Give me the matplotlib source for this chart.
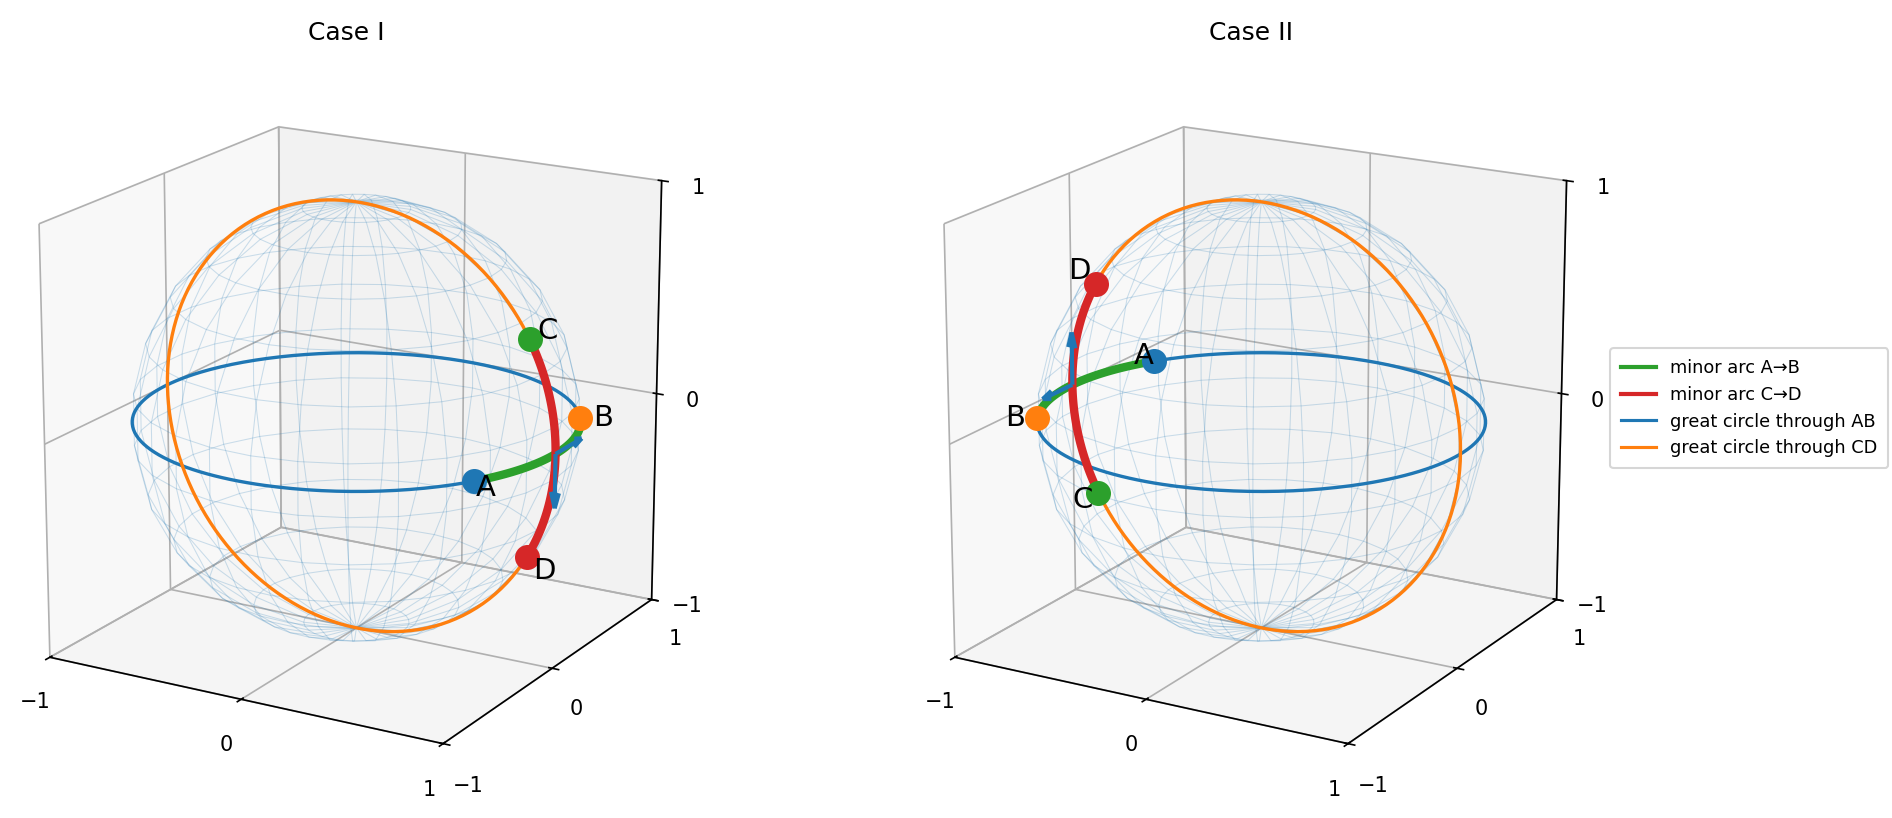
import numpy as np
import matplotlib.pyplot as plt
from matplotlib.lines import Line2D

# points on the unit sphere for the two cases (A, B, C, D)
s = np.sqrt(3) / 2
case_titles = ['Case I', 'Case II']
point_names = ['A', 'B', 'C', 'D']
point_colors = ['C0', 'C1', 'C2', 'C3']
case1_points = [[s, -0.5, 0.0], [s, 0.5, 0.0], [s, 0.0, 0.5], [s, 0.0, -0.5]]
case2_points = [[-s, 0.5, 0.0], [-s, -0.5, 0.0], [-s, 0.0, -0.5], [-s, 0.0, 0.5]]
axis_ticks = [-1, 0, 1]
legend_labels = ['minor arc A→B', 'minor arc C→D', 'great circle through AB',
                 'great circle through CD']


def unit(v):
    v = np.asarray(v, dtype=float)
    return v / np.linalg.norm(v)


def minor_arc(a, b, n=100):
    a, b = unit(a), unit(b)
    om = np.arccos(np.clip(np.dot(a, b), -1, 1))
    t = np.linspace(0, 1, n)
    pts = (np.sin((1 - t) * om)[:, None] * a + np.sin(t * om)[:, None] * b) / np.sin(om)
    return pts.T


def great_circle(a, b, n=300):
    a = unit(a)
    nrm = unit(np.cross(a, b))
    w = np.cross(nrm, a)
    t = np.linspace(0, 2 * np.pi, n)
    pts = np.cos(t)[:, None] * a + np.sin(t)[:, None] * w
    return pts.T


def on_arc(p, a, b):
    a, b = unit(a), unit(b)
    om = np.arccos(np.dot(a, b))
    return (np.arccos(np.clip(np.dot(p, a), -1, 1)) <= om + 1e-9 and
            np.arccos(np.clip(np.dot(p, b), -1, 1)) <= om + 1e-9)


def draw_case(ax, pts, title):
    A, B, C, D = [unit(p) for p in pts]
    ax.computed_zorder = False

    # sphere wireframe
    u = np.linspace(0, 2 * np.pi, 30)
    v = np.linspace(0, np.pi, 14)
    xs = np.outer(np.cos(u), np.sin(v))
    ys = np.outer(np.sin(u), np.sin(v))
    zs = np.outer(np.ones_like(u), np.cos(v))
    ax.plot_wireframe(xs, ys, zs, color='C0', alpha=0.22, linewidth=0.5, zorder=1)

    gab = great_circle(A, B)
    gcd = great_circle(C, D)
    ax.plot(*gab, color='C0', lw=1.6, zorder=2)
    ax.plot(*gcd, color='C1', lw=1.6, zorder=2)

    ax.plot(*minor_arc(A, B), color='C2', lw=4, zorder=3)
    ax.plot(*minor_arc(C, D), color='C3', lw=4, zorder=3)

    # intersection of the two great circles lying on both arcs
    n1 = unit(np.cross(A, B))
    n2 = unit(np.cross(C, D))
    p = unit(np.cross(n1, n2))
    if not (on_arc(p, A, B) and on_arc(p, C, D)):
        p = -p
    t1 = np.cross(n1, p)
    t2 = np.cross(n2, p)
    for t in (t1, t2):
        ax.quiver(p[0], p[1], p[2], t[0], t[1], t[2], length=0.25,
                  normalize=True, color='C0', linewidth=2,
                  arrow_length_ratio=0.3, zorder=4)

    for name, col, q in zip(point_names, point_colors, (A, B, C, D)):
        ax.plot([q[0]], [q[1]], [q[2]], 'o', color=col, markersize=11, zorder=5)
        lp = 1.1 * q
        ax.text(lp[0], lp[1], lp[2], name, fontsize=14, ha='center',
                va='center', zorder=6)

    ax.set_xlim(-1, 1)
    ax.set_ylim(-1, 1)
    ax.set_zlim(-1, 1)
    ax.set_xticks(axis_ticks)
    ax.set_yticks(axis_ticks)
    ax.set_zticks(axis_ticks)
    ax.set_box_aspect((1, 1, 1))
    ax.view_init(elev=18, azim=-60)
    ax.set_title(title)


fig = plt.figure(figsize=(1892 / 150, 818 / 150), dpi=150)
ax1 = fig.add_axes([-0.016, 0.0155, 0.398, 0.921], projection='3d')
ax2 = fig.add_axes([0.4623, 0.0155, 0.398, 0.921], projection='3d')

draw_case(ax1, case1_points, case_titles[0])
draw_case(ax2, case2_points, case_titles[1])

handles = [
    Line2D([0], [0], color='C2', lw=2),
    Line2D([0], [0], color='C3', lw=2),
    Line2D([0], [0], color='C0', lw=1.5),
    Line2D([0], [0], color='C1', lw=1.5),
]
fig.legend(handles, legend_labels, loc='center left',
           bbox_to_anchor=(0.851, 0.501), borderaxespad=0, fontsize=8.5,
           borderpad=0.6)

fig.savefig('out.png', dpi=150)
